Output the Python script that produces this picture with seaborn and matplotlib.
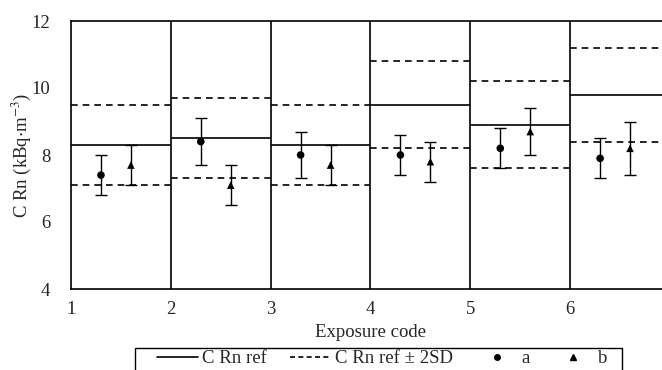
import numpy as np
import pandas as pd
import matplotlib
matplotlib.use("Agg")
import matplotlib.pyplot as plt
from matplotlib.lines import Line2D
from matplotlib.patches import Rectangle
import seaborn as sns

# Data
codes = [1, 2, 3, 4, 5, 6]
ref = [8.3, 8.5, 8.3, 9.5, 8.9, 9.8]
ref_hi = [9.5, 9.7, 9.5, 10.8, 10.2, 11.2]
ref_lo = [7.1, 7.3, 7.1, 8.2, 7.6, 8.4]
a_val = [7.4, 8.4, 8.0, 8.0, 8.2, 7.9]
a_err = [0.6, 0.7, 0.7, 0.6, 0.6, 0.6]
b_val = [7.7, 7.1, 7.7, 7.8, 8.7, 8.2]
b_err = [0.6, 0.6, 0.6, 0.6, 0.7, 0.8]
x_ticks = [1, 2, 3, 4, 5, 6]
y_ticks = [4, 6, 8, 10, 12]

sns.set_style("white")
plt.rcParams['font.family'] = ['Liberation Serif', 'DejaVu Serif']
plt.rcParams['mathtext.fontset'] = 'stix'

FS = 13.5

fig = plt.figure(figsize=(6.62, 3.70), dpi=100)
ax = fig.add_axes([71/662, 1 - 289/370, 599/662, 268/370])

lw = 1.2
starts = np.array(codes, dtype=float)
ends = starts + 1
ax.hlines(ref, starts, ends, colors='black', linewidth=lw)
ax.hlines(ref_hi, starts, ends, colors='black', linewidth=lw, linestyles=(0, (4, 3)))
ax.hlines(ref_lo, starts, ends, colors='black', linewidth=lw, linestyles=(0, (4, 3)))
for c in codes[1:]:
    ax.axvline(c, color='black', linewidth=lw)

xa = np.array(codes) + 0.3
xb = np.array(codes) + 0.6
ax.errorbar(xa, a_val, yerr=a_err, fmt='none', ecolor='black', elinewidth=1.0, capsize=4, capthick=1.0)
ax.errorbar(xb, b_val, yerr=b_err, fmt='none', ecolor='black', elinewidth=1.0, capsize=4, capthick=1.0)

df = pd.DataFrame({
    'x': np.concatenate([xa, xb]),
    'y': a_val + b_val,
    'series': ['a'] * len(codes) + ['b'] * len(codes),
})
sns.scatterplot(data=df, x='x', y='y', style='series', markers={'a': 'o', 'b': '^'},
                color='black', s=30, edgecolor='black', linewidth=0, legend=False, ax=ax, zorder=5)

ax.set_xlim(1, 7)
ax.set_ylim(4, 12)
ax.set_xticks(x_ticks)
ax.set_yticks(y_ticks)
ax.tick_params(axis='both', length=0, labelsize=FS)
ax.tick_params(axis='x', pad=9)
ax.tick_params(axis='y', pad=15)
for s in ['left', 'top', 'bottom', 'right']:
    ax.spines[s].set_color('black')
    ax.spines[s].set_linewidth(lw)
ax.set_xlabel('Exposure code', fontsize=FS, labelpad=4)
ax.set_ylabel(r'C Rn (kBq$\cdot$m$^{-3}$)', fontsize=FS)
ax.yaxis.set_label_coords((21 - 71) / 599, 0.5)
ax.yaxis.label.set_va('center')

handles = [
    Line2D([], [], color='black', linewidth=lw),
    Line2D([], [], color='black', linewidth=lw, linestyle=(0, (3, 2))),
    Line2D([], [], color='black', marker='o', linestyle='none', markersize=4),
    Line2D([], [], color='black', marker='^', linestyle='none', markersize=5),
]
labels = ['C Rn ref', 'C Rn ref \u00b1 2SD', 'a', 'b']
leg = fig.legend(handles, labels, ncol=4, loc='upper left', mode='expand',
                 bbox_to_anchor=(157/662, 1 - 350/370 - 0.01, 450/662, 0.01), fontsize=FS,
                 frameon=False, borderaxespad=0,
                 borderpad=0.0, handlelength=2.2, columnspacing=1.2, handletextpad=0.2)
fig.patches.append(Rectangle((135/662, -0.05), 487/662, 1 - 348/370 + 0.05,
                             transform=fig.transFigure, fill=False,
                             edgecolor='black', linewidth=1.0))

fig.savefig('out.png', dpi=100)
